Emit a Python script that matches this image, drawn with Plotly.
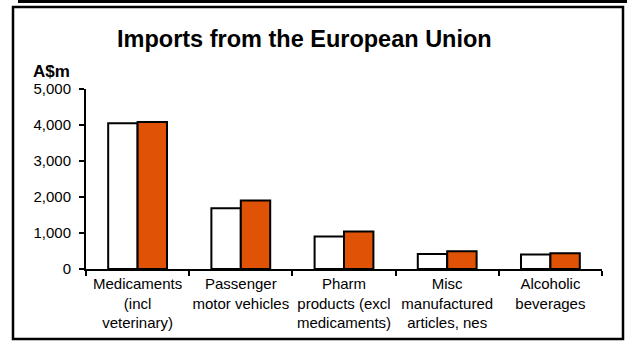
import plotly.graph_objects as go

categories = ["Medicaments<br>(incl<br>veterinary)", "Passenger<br>motor vehicles",
              "Pharm<br>products (excl<br>medicaments)", "Misc<br>manufactured<br>articles, nes",
              "Alcoholic<br>beverages"]
series_a = [4050, 1690, 900, 420, 400]
series_b = [4080, 1900, 1040, 490, 440]
y_ticks = [0, 1000, 2000, 3000, 4000, 5000]

W, H = 627, 343
L, R, T, B = 86, 25, 89, 74
pw, ph = W - L - R, H - T - B

def px(x):
    return (x - L) / pw

def py(y):
    return (H - B - y) / ph

fig = go.Figure()
fig.add_bar(x=categories, y=series_a, marker=dict(color="white", line=dict(color="black", width=2)),
            showlegend=False)
fig.add_bar(x=categories, y=series_b, marker=dict(color="#E05206", line=dict(color="black", width=2)),
            showlegend=False)

font = "Liberation Sans, Arial, sans-serif"
fig.update_layout(
    width=W, height=H, margin=dict(l=L, r=R, t=T, b=B, autoexpand=False),
    paper_bgcolor="white", plot_bgcolor="white",
    barmode="group", bargap=0.43, bargroupgap=0,
    font=dict(family=font, size=15, color="black"),
    xaxis=dict(showline=True, linecolor="black", linewidth=2, ticks="outside", ticklen=5,
               tickwidth=2, tickcolor="black", tickson="boundaries", showgrid=False,
               tickangle=0, automargin=False, tickfont=dict(size=15)),
    yaxis=dict(range=[0, 5000], tickvals=y_ticks, tickformat=",", showline=True,
               linecolor="black", linewidth=2, ticks="outside", ticklen=5, tickwidth=2,
               tickcolor="black", showgrid=False, zeroline=False, automargin=False,
               ticklabelstandoff=5, tickfont=dict(size=15)),
    shapes=[
        dict(type="rect", xref="paper", yref="paper", x0=px(13), x1=px(623), y0=py(7), y1=py(339),
             line=dict(color="black", width=2.5), layer="above"),
        dict(type="line", xref="paper", yref="paper", x0=px(18), x1=px(627), y0=py(1.5), y1=py(1.5),
             line=dict(color="black", width=3), layer="above"),
    ],
    annotations=[
        dict(text="<b>Imports from the European Union</b>", xref="paper", yref="paper",
             x=px(304), y=py(39), xanchor="center", yanchor="middle", showarrow=False,
             font=dict(size=23.5, family=font)),
        dict(text="<b>A$m</b>", xref="paper", yref="paper", x=px(31), y=py(72),
             xanchor="left", yanchor="middle", showarrow=False, font=dict(size=17, family=font)),
    ],
)

fig.write_html("out.html", config={"displayModeBar": False},
               post_script="document.body.style.margin='0';document.body.style.overflow='hidden';")
